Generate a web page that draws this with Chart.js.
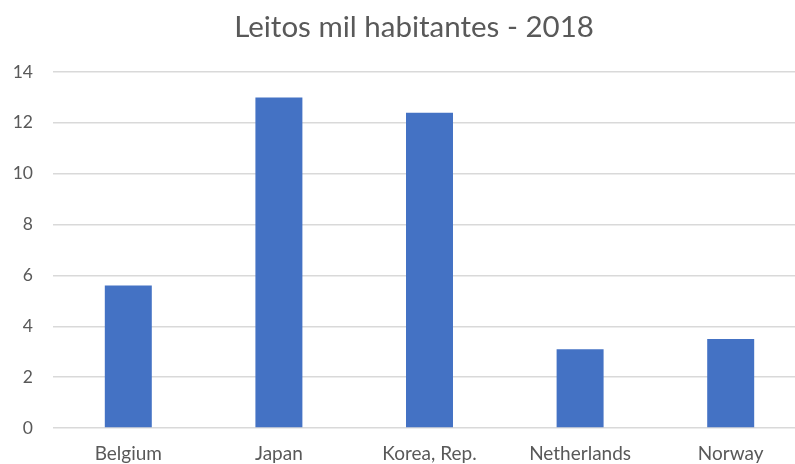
<!DOCTYPE html>
<html>
<head>
<meta charset="utf-8">
<script src="https://cdn.jsdelivr.net/npm/chart.js@4"></script>
<style>
  html, body { margin: 0; padding: 0; background: #fff; overflow: hidden; }
  #wrap { width: 828px; height: 464px; }
</style>
</head>
<body>
<div id="wrap"><canvas id="chart"></canvas></div>
<script>
  // leitos por mil habitantes, 2018
  const countries = ['Belgium', 'Japan', 'Korea, Rep.', 'Netherlands', 'Norway'];
  const beds = [5.6, 13.0, 12.4, 3.1, 3.5];
  const yTicks = [0, 2, 4, 6, 8, 10, 12, 14];

  const textColor = '#595959';
  const gridColor = '#d9d9d9';
  const font = 'Lato';

  new Chart(document.getElementById('chart'), {
    type: 'bar',
    data: {
      labels: countries,
      datasets: [{
        data: beds,
        backgroundColor: '#4472c4',
        borderWidth: 0,
        categoryPercentage: 1,
        barPercentage: 0.312
      }]
    },
    options: {
      responsive: true,
      maintainAspectRatio: false,
      animation: false,
      layout: { padding: 0 },
      plugins: {
        legend: { display: false },
        tooltip: { enabled: false },
        title: {
          display: true,
          text: 'Leitos mil habitantes - 2018',
          color: textColor,
          font: { family: font, size: 29.5, weight: 'normal' },
          padding: { top: 10, bottom: 26.6 }
        }
      },
      scales: {
        x: {
          afterFit: function (scale) { scale.height = 36; },
          grid: { display: false, drawTicks: false },
          border: { display: false },
          ticks: {
            color: textColor,
            font: { family: font, size: 19 },
            padding: 14,
            maxRotation: 0
          }
        },
        y: {
          min: 0,
          max: 14,
          afterBuildTicks: function (scale) {
            scale.ticks = yTicks.map(v => ({ value: v }));
          },
          afterFit: function (scale) { scale.width = 53; },
          grid: { color: gridColor, lineWidth: 1.5, drawTicks: false },
          border: { display: false },
          ticks: {
            color: textColor,
            font: { family: font, size: 17.5 },
            padding: 20
          }
        },
        // empty right-hand gutter so the plot stops short of the title's centre
        gutter: {
          position: 'right',
          grid: { display: false },
          border: { display: false },
          ticks: { display: false },
          afterFit: function (scale) { scale.width = 22; }
        }
      }
    }
  });
</script>
</body>
</html>
